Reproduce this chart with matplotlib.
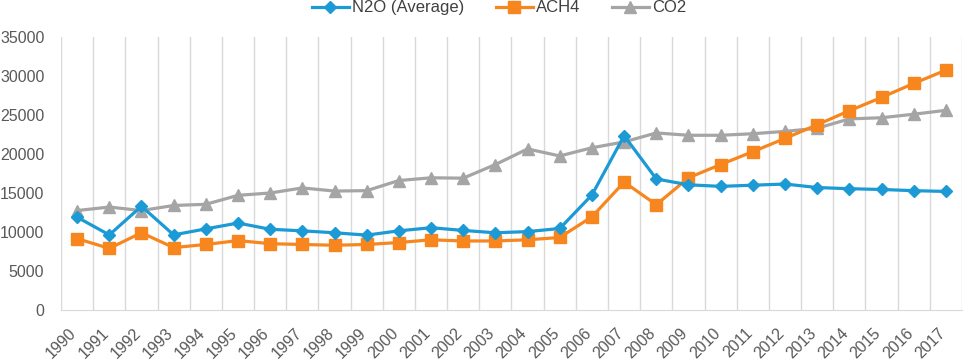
import numpy as np
import matplotlib
matplotlib.use('Agg')
import matplotlib.pyplot as plt
import matplotlib.transforms as mtransforms

plt.rcParams['font.family'] = ['Liberation Sans', 'DejaVu Sans']

years = list(range(1990, 2018))
n2o = [11900, 9630, 13300, 9630, 10400, 11150, 10350, 10150, 9900, 9600,
       10150, 10550, 10200, 9900, 10050, 10450, 14750, 22350, 16800, 16050,
       15850, 16000, 16150, 15700, 15550, 15450, 15300, 15200]
ach4 = [9150, 7900, 9900, 8000, 8400, 8900, 8500, 8400, 8300, 8400,
        8650, 9000, 8850, 8850, 9000, 9300, 11950, 16400, 13500, 16950,
        18650, 20300, 22000, 23750, 25550, 27250, 29050, 30750]
co2 = [12750, 13200, 12750, 13400, 13550, 14700, 15000, 15650, 15250, 15300,
       16600, 16950, 16900, 18650, 20650, 19750, 20800, 21550, 22700, 22400,
       22400, 22600, 22900, 23300, 24500, 24650, 25100, 25600]

fig = plt.figure(figsize=(9.69, 3.63), dpi=100)
ax = fig.add_axes([61 / 969, 1 - 310 / 363, 901 / 969, 273 / 363])

x = np.arange(len(years))
ax.plot(x, n2o, color='#1b9ad6', lw=2.3, marker='D', markersize=6.5, label='N2O (Average)', zorder=4)
ax.plot(x, ach4, color='#f7861f', lw=2.3, marker='s', markersize=9, label='ACH4', zorder=3)
ax.plot(x, co2, color='#a5a5a5', lw=2.3, marker='^', markersize=9, label='CO2', zorder=2)

ax.set_xlim(-0.5, len(years) - 0.5)
ax.set_ylim(0, 35000)
ax.set_yticks(range(0, 35001, 5000))
ax.set_xticks(x)
ax.set_xticks(np.arange(-0.5, len(years), 1), minor=True)
ax.grid(True, which='minor', axis='x', color='#d9d9d9', lw=1)
ax.tick_params(which='both', length=0)
ax.tick_params(axis='y', labelsize=11.5, colors='#595959', pad=12)
ax.tick_params(axis='x', labelsize=11.5, colors='#595959', pad=0)
ax.set_xticklabels([str(y) for y in years], rotation=45, ha='right', va='center',
                   rotation_mode='anchor')
offset = mtransforms.ScaledTranslation(-0.03, -0.21, fig.dpi_scale_trans)
for lbl in ax.get_xticklabels():
    lbl.set_transform(lbl.get_transform() + offset)

for s in ['top', 'right', 'left']:
    ax.spines[s].set_visible(False)
ax.spines['bottom'].set_color('#d9d9d9')

leg = fig.legend(loc='upper center', bbox_to_anchor=(0.515, 1.04), ncol=3, frameon=False,
                 fontsize=12, handlelength=2.2, handletextpad=0.2, columnspacing=1.9)
for t in leg.get_texts():
    t.set_color('#404040')

fig.savefig('out.png', dpi=100)
